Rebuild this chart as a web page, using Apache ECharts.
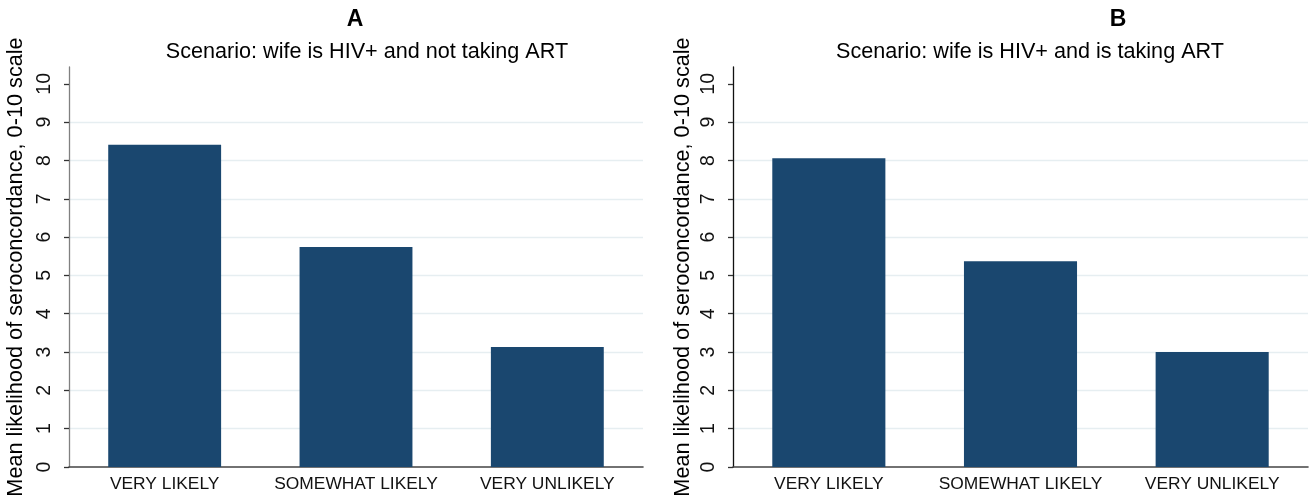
<!DOCTYPE html>
<html>
<head>
<meta charset="utf-8">
<script src="https://cdn.jsdelivr.net/npm/echarts@6/dist/echarts.min.js"></script>
<style>
  html, body { margin: 0; padding: 0; background: #fff; }
  #chart { width: 1309px; height: 503px; }
</style>
</head>
<body>
<div id="chart"></div>
<script>
// Response categories shared by both panels
const categories = ['VERY LIKELY', 'SOMEWHAT LIKELY', 'VERY UNLIKELY'];

// Mean likelihood (0-10) by response, per scenario
const notTakingART = [8.41, 5.74, 3.13];
const takingART = [8.06, 5.37, 3.00];

// Panel headings
const panelLetters = ['A', 'B'];
const panelSubtitles = [
  'Scenario: wife is HIV+ and not taking ART',
  'Scenario: wife is HIV+ and is taking ART'
];
const yAxisTitle = 'Mean likelihood of seroconcordance, 0-10 scale';
const yTickValues = [0, 1, 2, 3, 4, 5, 6, 7, 8, 9, 10];

const FONT = '"Liberation Sans", Arial, sans-serif';
const BAR_COLOR = '#1a476f';

function yAxisFor(gridIndex, axisColor, gap) {
  return {
    type: 'value',
    gridIndex: gridIndex,
    min: 0,
    max: 10.44,
    interval: 1,
    name: yAxisTitle,
    nameLocation: 'middle',
    nameRotate: 90,
    nameGap: gap,
    nameTextStyle: { fontFamily: FONT, fontSize: 21.7, color: '#000' },
    axisLine: { show: true, lineStyle: { color: axisColor, width: 1.3 } },
    axisTick: { show: true, length: 5, customValues: yTickValues,
                lineStyle: { color: '#333', width: 1.3 } },
    axisLabel: { customValues: yTickValues, rotate: 90, margin: 14,
                 fontFamily: FONT, fontSize: 19.5, color: '#111' },
    splitLine: { show: true, showMinLine: false, showMaxLine: false,
                 lineStyle: { color: '#e6eef1', width: 1.3 } }
  };
}

function xAxisFor(gridIndex) {
  return {
    type: 'category',
    gridIndex: gridIndex,
    data: categories,
    axisLine: { show: true, lineStyle: { color: '#444', width: 1.6 } },
    axisTick: { show: false },
    axisLabel: { interval: 0, margin: 9, fontFamily: FONT, fontSize: 17.4, color: '#111' },
    splitLine: { show: false }
  };
}

function barSeries(idx, values) {
  return {
    type: 'bar',
    xAxisIndex: idx,
    yAxisIndex: idx,
    data: values,
    barCategoryGap: '41%',
    itemStyle: { color: BAR_COLOR },
    silent: true
  };
}

function heading(x, y, text, size, weight) {
  return {
    type: 'text',
    x: x, y: y,
    style: { text: text, fontFamily: FONT, fontSize: size, fontWeight: weight,
             fill: '#000', align: 'center', verticalAlign: 'middle' }
  };
}

const chart = echarts.init(document.getElementById('chart'), null, { renderer: 'canvas' });
chart.setOption({
  animation: false,
  backgroundColor: '#fff',
  grid: [
    { left: 69, right: 666, top: 67, bottom: 36, containLabel: false, outerBoundsMode: 'none' },
    { left: 733, right: 1, top: 67, bottom: 36, containLabel: false, outerBoundsMode: 'none' }
  ],
  xAxis: [xAxisFor(0), xAxisFor(1)],
  yAxis: [yAxisFor(0, '#808080', 42), yAxisFor(1, '#111', 39)],
  series: [barSeries(0, notTakingART), barSeries(1, takingART)],
  graphic: [
    heading(355, 20, panelLetters[0], 23, 'bold'),
    heading(367, 52, panelSubtitles[0], 21.6, 'normal'),
    heading(1118, 20, panelLetters[1], 23, 'bold'),
    heading(1030, 52, panelSubtitles[1], 21.6, 'normal')
  ]
});
</script>
</body>
</html>
